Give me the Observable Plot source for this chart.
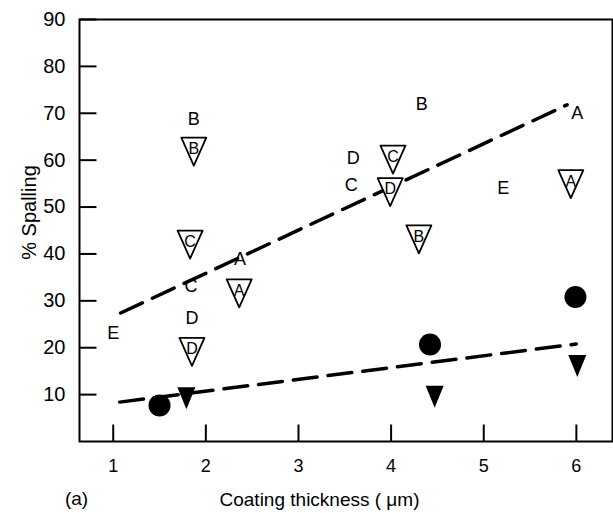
<!DOCTYPE html>
<html>
<head>
<meta charset="utf-8">
<script src="https://cdn.jsdelivr.net/npm/d3@7"></script>
<script src="https://cdn.jsdelivr.net/npm/@observablehq/plot@0.6"></script>
<style>
  body { margin: 0; background: #fff; }
  #chart svg { display: block; }
</style>
</head>
<body>
<div id="chart"></div>
<script>
// Axis ticks
const xTicks = [1, 2, 3, 4, 5, 6];
const yTicks = [10, 20, 30, 40, 50, 60, 70, 80, 90];

// Uncoated specimens: plotted as bare letters (A–E)
const letterText = ["B", "B", "A", "D", "C", "E", "A", "C", "D", "E"];
const letterX    = [1.87, 4.33, 6.01, 3.59, 3.57, 5.21, 2.37, 1.84, 1.85, 1.00];
const letterY    = [68.7, 72.0, 70.1, 60.4, 54.6, 54.1, 38.8, 33.1, 26.3, 23.0];

// Open triangles with the specimen letter inside
const openText = ["B", "C", "A", "D", "C", "D", "B", "A"];
const openX    = [1.87, 1.83, 2.36, 1.85, 4.02, 3.99, 4.30, 5.94];
const openY    = [62.8, 43.0, 32.6, 20.1, 61.1, 54.2, 44.1, 55.9];

// Filled circles
const circleX = [1.50, 4.42, 5.99];
const circleY = [7.7, 20.7, 30.8];

// Filled triangles
const solidX = [1.79, 4.47, 6.01];
const solidY = [10.0, 10.3, 16.9];

// Dashed trend lines (end points)
const upperX = [1.08, 5.90];
const upperY = [27.4, 71.8];
const lowerX = [1.07, 6.00];
const lowerY = [8.4, 20.8];

const idx = (a) => d3.range(a.length);

// Downward-pointing triangle centred on its centroid
function downTriangle(w, h) {
  return {
    draw(context) {
      context.moveTo(-w / 2, -h / 3);
      context.lineTo(w / 2, -h / 3);
      context.lineTo(0, (2 * h) / 3);
      context.closePath();
    }
  };
}

// Short tick strokes pointing into the plot area
const tickRight = { draw(context) { context.moveTo(0, 0); context.lineTo(17, 0); } };
const tickUp = { draw(context) { context.moveTo(0, 0); context.lineTo(0, -17); } };

const font = "'Liberation Sans', Arial, sans-serif";

const chart = Plot.plot({
  width: 613,
  height: 513,
  marginLeft: 79,
  marginRight: 1,
  marginTop: 19,
  marginBottom: 72,
  style: { fontFamily: font, background: "white", color: "black" },
  x: { domain: [0.636, 6.39] },
  y: { domain: [0, 90] },
  marks: [
    Plot.frame({ stroke: "black", strokeWidth: 2 }),
    Plot.axisX(xTicks, { tickSize: 0, tickPadding: 18, fontSize: 18, label: null }),
    Plot.axisY(yTicks, { tickSize: 0, tickPadding: 14, fontSize: 20, label: null }),
    Plot.dot(xTicks, {
      x: (d) => d, frameAnchor: "bottom", symbol: tickUp,
      fill: "none", stroke: "black", strokeWidth: 2
    }),
    Plot.dot(yTicks, {
      y: (d) => d, frameAnchor: "left", symbol: tickRight,
      fill: "none", stroke: "black", strokeWidth: 2
    }),

    Plot.line(idx(upperX), {
      x: (i) => upperX[i], y: (i) => upperY[i],
      stroke: "black", strokeWidth: 3.5, strokeDasharray: "24,11"
    }),
    Plot.line(idx(lowerX), {
      x: (i) => lowerX[i], y: (i) => lowerY[i],
      stroke: "black", strokeWidth: 3.5, strokeDasharray: "24,11"
    }),

    Plot.text(idx(letterX), {
      x: (i) => letterX[i], y: (i) => letterY[i], text: (i) => letterText[i],
      fontSize: 18
    }),

    Plot.dot(idx(openX), {
      x: (i) => openX[i], y: (i) => openY[i],
      symbol: downTriangle(25, 28), fill: "white", stroke: "black",
      strokeWidth: 1.8, strokeLinejoin: "round"
    }),
    Plot.text(idx(openX), {
      x: (i) => openX[i], y: (i) => openY[i], text: (i) => openText[i],
      fontSize: 16, dy: 2
    }),

    Plot.dot(idx(circleX), {
      x: (i) => circleX[i], y: (i) => circleY[i],
      r: 11, fill: "black", stroke: "none"
    }),
    Plot.dot(idx(solidX), {
      x: (i) => solidX[i], y: (i) => solidY[i],
      symbol: downTriangle(18, 22), fill: "black", stroke: "none"
    }),

    Plot.text(["% Spalling"], {
      frameAnchor: "left", textAnchor: "middle", lineAnchor: "middle",
      rotate: -90, dx: -50, dy: -18, fontSize: 20
    }),
    Plot.text(["Coating thickness ( μm)"], {
      frameAnchor: "bottom", textAnchor: "middle", lineAnchor: "middle",
      dx: -26.5, dy: 58, fontSize: 19
    }),
    Plot.text(["(a)"], {
      frameAnchor: "bottom", textAnchor: "middle", lineAnchor: "middle",
      dx: -269.5, dy: 57, fontSize: 19
    })
  ]
});

document.getElementById("chart").appendChild(chart);
</script>
</body>
</html>
